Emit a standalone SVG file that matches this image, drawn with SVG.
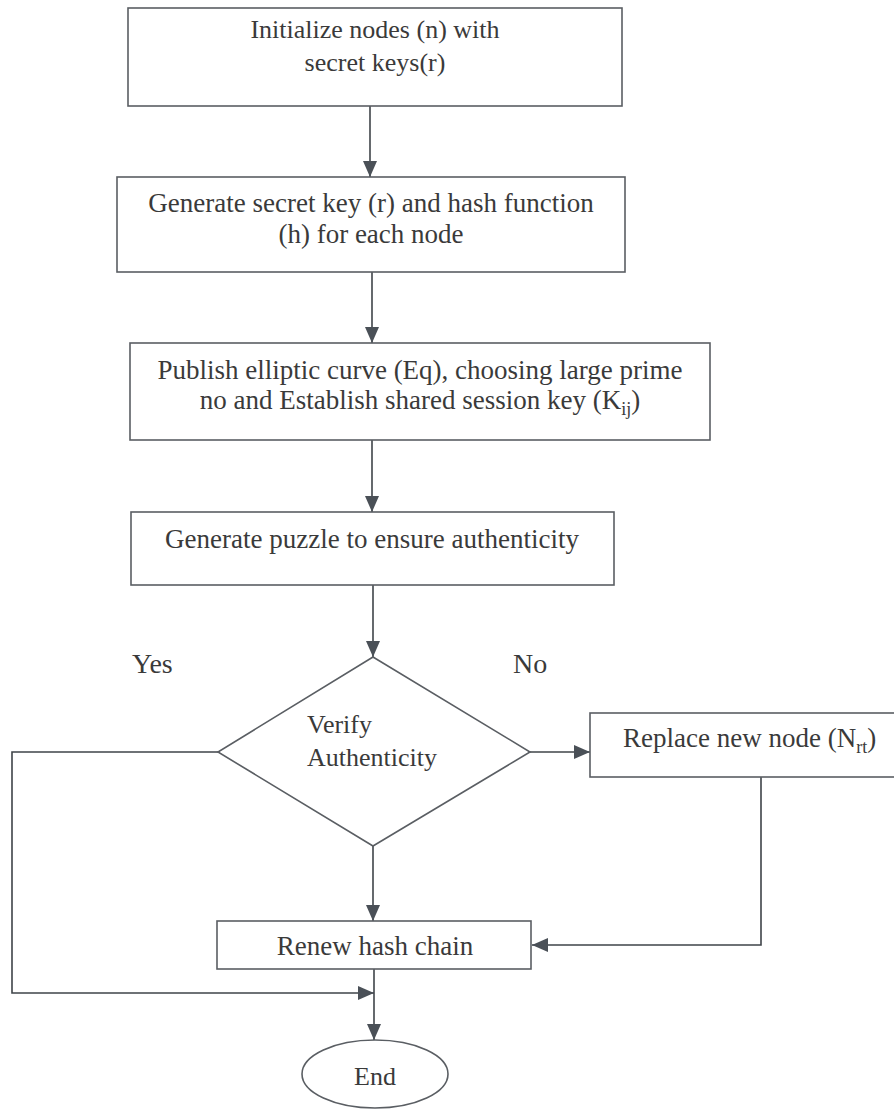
<svg xmlns="http://www.w3.org/2000/svg" width="894" height="1110" viewBox="0 0 894 1110">
<style>
.box{fill:#ffffff;stroke:#5a5e63;stroke-width:1.6}
.t{font-family:"Liberation Serif","DejaVu Serif","Times New Roman",serif;font-size:27px;fill:#3a3a3a}
.c{text-anchor:middle}
.con{fill:none;stroke:#3f4449;stroke-width:1.6}
</style>
<defs>
<marker id="ah" viewBox="0 0 16 14" refX="16" refY="7" markerWidth="16" markerHeight="14" markerUnits="userSpaceOnUse" orient="auto">
<path d="M0,0 L16,7 L0,14 Z" fill="#4a5057"/>
</marker>
</defs>
<rect width="894" height="1110" fill="#ffffff"/>
<g id="connectors">
<line class="con" x1="370" y1="106" x2="370" y2="177" marker-end="url(#ah)"/>
<line class="con" x1="372" y1="272" x2="372" y2="343" marker-end="url(#ah)"/>
<line class="con" x1="372" y1="440" x2="372" y2="512" marker-end="url(#ah)"/>
<line class="con" x1="373" y1="585" x2="373" y2="657" marker-end="url(#ah)"/>
<line class="con" x1="373" y1="846" x2="373" y2="921" marker-end="url(#ah)"/>
<line class="con" x1="374" y1="969" x2="374" y2="1040" marker-end="url(#ah)"/>
<polyline class="con" points="218,752 12,752 12,993 374,993" marker-end="url(#ah)"/>
<line class="con" x1="530" y1="752" x2="590" y2="752" marker-end="url(#ah)"/>
<polyline class="con" points="761,777 761,945 532,945" marker-end="url(#ah)"/>
</g>
<g id="node-init">
<rect class="box" x="128" y="8" width="494" height="98"/>
<text class="t c" x="375" y="38" font-family="Liberation Serif, serif" style="font-size:26px">Initialize nodes (n) with</text>
<text class="t c" x="375" y="71" style="font-size:26px">secret keys(r)</text>
</g>
<g id="node-generate">
<rect class="box" x="117" y="177" width="508" height="95"/>
<text class="t c" x="371" y="212">Generate secret key (r) and hash function</text>
<text class="t c" x="371" y="243">(h) for each node</text>
</g>
<g id="node-publish">
<rect class="box" x="130" y="343" width="580" height="97"/>
<text class="t c" x="420" y="379">Publish elliptic curve (Eq), choosing large prime</text>
<text class="t c" x="420" y="409">no and Establish shared session key (K<tspan dy="6" style="font-size:18px">ij</tspan><tspan dy="-6">)</tspan></text>
</g>
<g id="node-puzzle">
<rect class="box" x="131" y="512" width="483" height="73"/>
<text class="t c" x="372" y="548">Generate puzzle to ensure authenticity</text>
</g>
<g id="node-verify">
<polygon class="box" points="373,657 530,752 373,846 218,752"/>
<text class="t" x="307" y="733" style="font-size:26px">Verify</text>
<text class="t" x="307" y="766" style="font-size:26px">Authenticity</text>
</g>
<g id="labels">
<text class="t" x="132" y="673" style="font-size:28px">Yes</text>
<text class="t" x="513" y="673" style="font-size:28px">No</text>
</g>
<g id="node-replace">
<rect class="box" x="590" y="713" width="320" height="64"/>
<text class="t" x="623" y="747">Replace new node (N<tspan dy="6" style="font-size:18px">rt</tspan><tspan dy="-6">)</tspan></text>
</g>
<g id="node-renew">
<rect class="box" x="217" y="921" width="314" height="48"/>
<text class="t c" x="375" y="955">Renew hash chain</text>
</g>
<g id="node-end">
<ellipse class="box" cx="375" cy="1074" rx="73" ry="34"/>
<text class="t c" x="375" y="1085" style="font-size:26px">End</text>
</g>
</svg>
